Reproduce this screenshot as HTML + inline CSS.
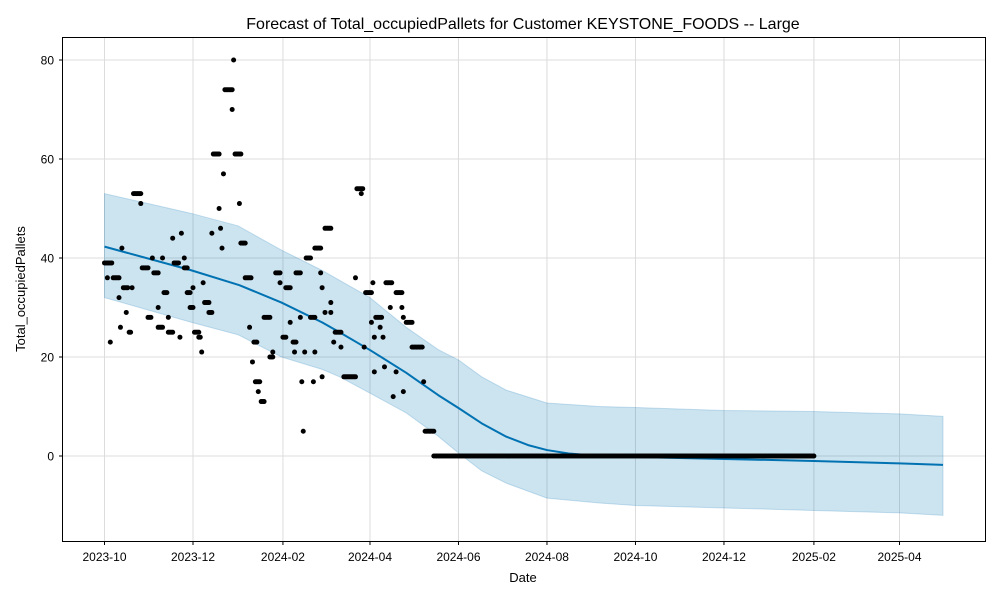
<!DOCTYPE html>
<html><head><meta charset="utf-8"><style>
body{margin:0;background:#fff;}
svg{display:block;font-family:"Liberation Sans","DejaVu Sans",sans-serif;}
</style></head><body>
<svg id="chart" width="1000" height="600" viewBox="0 0 1000 600" xmlns="http://www.w3.org/2000/svg">
<rect width="1000" height="600" fill="#fff"/>
<text x="523" y="29" font-size="16" text-anchor="middle" fill="#000">Forecast of Total_occupiedPallets for Customer KEYSTONE_FOODS -- Large</text>
<g id="grid"></g>
<g id="band"></g>
<g id="trend"></g>
<g id="points"></g>
<rect x="62.5" y="37.5" width="923" height="504" fill="none" stroke="#000" stroke-width="1"/>
<g id="axes"></g>
<text x="523" y="582" font-size="13" text-anchor="middle">Date</text>
<text x="25" y="289" font-size="13" text-anchor="middle" transform="rotate(-90 25 289)">Total_occupiedPallets</text>
</svg>
<script>
// observed runs: day offsets from 2023-10-01
const runStart=[0,2,4,6,10,11,12,13,15,17,19,20,25,26,30,33,34,37,37,40,41,44,44,47,48,52,53,55,55,57,59,61,62,65,67,68,69,72,74,75,79,80,81,82,83,88,89,90,93,94,97,100,102,103,104,106,108,110,114,116,118,121,123,125,128,130,131,132,135,136,137,138,139,142,144,145,145,149,150,150,152,152,156,156,158,159,163,165,173,174,177,179,180,184,185,186,186,187,190,192,193,194,197,199,201,201,205,206,206,208,212,220,221,227];
const runEnd=  [5,2,4,10,10,11,12,16,15,18,19,25,25,30,32,33,37,37,40,40,43,44,47,47,51,52,53,55,57,59,61,61,65,66,67,68,72,74,74,79,79,80,81,82,88,88,89,94,93,97,101,100,102,105,107,106,110,114,116,116,121,121,125,128,128,132,131,135,135,136,137,138,142,145,144,145,149,149,150,150,152,156,156,156,158,163,163,173,173,178,177,179,184,184,185,186,186,191,190,192,193,198,197,199,201,205,205,206,206,212,219,220,227,489];
const runVal=  [39,36,23,36,32,26,42,34,29,25,34,53,51,38,28,40,37,30,26,40,33,28,25,44,39,24,45,40,38,33,30,34,25,24,21,35,31,29,45,61,50,46,42,57,74,70,80,61,51,43,36,26,19,23,15,13,11,28,20,21,37,35,24,34,27,23,21,37,28,15,5,21,40,28,15,21,42,37,34,16,29,46,31,29,23,25,22,16,36,54,53,22,33,27,35,17,24,28,26,24,18,35,30,12,17,33,30,28,13,27,22,15,5,0];
const trendDay=[0,60,93,122,150,162,183,208,230,244,260,277,292,305,320,341,366,427,489,548,578];
const trendVal=[42.3,37.5,34.5,31,27,25,21.4,16.8,12.3,9.7,6.6,3.9,2.2,1.2,0.5,0,-0.2,-0.6,-1,-1.5,-1.8];
const bandDay=[0,30,60,92,122,150,162,183,208,230,244,260,277,305,341,366,427,489,548,578];
const bandUp=[53,51,49,46.5,41.6,37.5,35.5,32,26,21.5,19.4,16,13.3,10.7,10,9.8,9.2,9,8.5,8];
const bandLo=[32,29.5,27,24.5,20,17.5,16,12.7,8.7,4,0.6,-3,-5.5,-8.5,-9.5,-10,-10.5,-11,-11.5,-12];
const yTicks=[0,20,40,60,80];
const xTickLabels=["2023-10","2023-12","2024-02","2024-04","2024-06","2024-08","2024-10","2024-12","2025-02","2025-04"];
const xTickDays=[0,61,123,183,244,305,366,427,489,548];

const X=d=>104.5+d*(795/548);
const Y=v=>456-v*4.95;
const NS="http://www.w3.org/2000/svg";
function mk(tag,attrs,parent){const e=document.createElementNS(NS,tag);for(const k in attrs)e.setAttribute(k,attrs[k]);parent.appendChild(e);return e;}
const grid=document.getElementById('grid'),axes=document.getElementById('axes');
yTicks.forEach(v=>{
  const g=mk('line',{x1:62.5,x2:985.5,y1:Y(v),y2:Y(v),stroke:'#dcdcdc','stroke-width':1},grid);
  
  
  mk('line',{x1:59,x2:62.5,y1:Y(v),y2:Y(v),stroke:'#000'},axes);
  const t=mk('text',{x:54,y:Y(v)+4.5,'font-size':12,'text-anchor':'end'},axes);
  t.textContent=v;
  
  
});
xTickDays.forEach((d,i)=>{
  const g=mk('line',{x1:X(d),x2:X(d),y1:37.5,y2:541.5,stroke:'#dcdcdc','stroke-width':1},grid);
  
  
  mk('line',{x1:X(d),x2:X(d),y1:541.5,y2:545,stroke:'#000'},axes);
  const t=mk('text',{x:X(d),y:561,'font-size':12,'text-anchor':'middle'},axes);
  t.textContent=xTickLabels[i];
  
  
});
let pts=bandDay.map((d,i)=>X(d)+','+Y(bandUp[i]));
for(let i=bandDay.length-1;i>=0;i--)pts.push(X(bandDay[i])+','+Y(bandLo[i]));
const band=mk('polygon',{points:pts.join(' '),fill:'#0072b2','fill-opacity':0.2,stroke:'#0072b2','stroke-opacity':0.2},document.getElementById('band'));


const tl=mk('polyline',{points:trendDay.map((d,i)=>X(d)+','+Y(trendVal[i])).join(' '),fill:'none',stroke:'#0072b2','stroke-width':2,'stroke-linejoin':'round'},document.getElementById('trend'));


const pg=document.getElementById('points');
runStart.forEach((s,i)=>{
  for(let d=s;d<=runEnd[i];d++){
    const c=mk('circle',{cx:X(d),cy:Y(runVal[i]),r:2.5,fill:'#000'},pg);
    
    
  }
});
</script>
</body></html>
